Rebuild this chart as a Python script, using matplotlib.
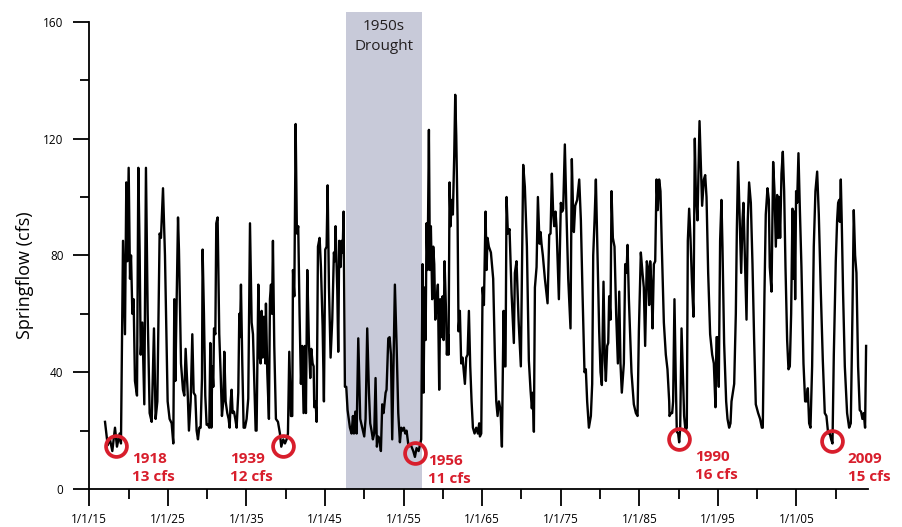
import matplotlib
matplotlib.use("Agg")
import matplotlib.pyplot as plt
from matplotlib.ticker import FixedLocator

plt.rcParams["font.family"] = ["Open Sans", "DejaVu Sans"]

# springflow record (decimal year, cfs)
years = [
    1917.00, 1917.34, 1917.63, 1917.93, 1918.27, 1918.52, 1918.86, 1919.03, 1919.29, 1919.54,
    1919.71, 1919.84, 1920.01, 1920.18, 1920.31, 1920.48, 1920.64, 1920.81, 1921.07, 1921.24,
    1921.41, 1921.54, 1921.75, 1922.00, 1922.21, 1922.43, 1922.68, 1922.94, 1923.23, 1923.44,
    1923.66, 1923.95, 1924.12, 1924.38, 1924.63, 1924.97, 1925.22, 1925.48, 1925.69, 1925.82,
    1925.95, 1926.29, 1926.41, 1926.67, 1926.92, 1927.09, 1927.26, 1927.52, 1927.68, 1927.90,
    1928.11, 1928.28, 1928.49, 1928.66, 1928.83, 1929.00, 1929.17, 1929.34, 1929.42, 1929.59,
    1929.76, 1929.93, 1930.10, 1930.27, 1930.40, 1930.53, 1930.65, 1930.78, 1930.87, 1931.04,
    1931.16, 1931.33, 1931.54, 1931.71, 1931.88, 1932.05, 1932.18, 1932.35, 1932.56, 1932.73,
    1932.86, 1932.99, 1933.11, 1933.24, 1933.41, 1933.58, 1933.75, 1933.96, 1934.09, 1934.17,
    1934.30, 1934.47, 1934.64, 1934.81, 1935.02, 1935.23, 1935.45, 1935.66, 1935.83, 1936.00,
    1936.17, 1936.29, 1936.51, 1936.63, 1936.80, 1936.93, 1937.06, 1937.23, 1937.40, 1937.48,
    1937.65, 1937.86, 1937.99, 1938.12, 1938.25, 1938.37, 1938.54, 1938.75, 1939.01, 1939.26,
    1939.43, 1939.69, 1939.90, 1940.11, 1940.28, 1940.45, 1940.66, 1940.83, 1940.92, 1941.09,
    1941.26, 1941.42, 1941.59, 1941.76, 1941.93, 1942.10, 1942.27, 1942.44, 1942.57, 1942.74,
    1942.95, 1943.12, 1943.25, 1943.42, 1943.55, 1943.63, 1943.80, 1943.93, 1944.10, 1944.31,
    1944.48, 1944.69, 1944.86, 1945.03, 1945.20, 1945.33, 1945.50, 1945.71, 1945.92, 1946.13,
    1946.26, 1946.34, 1946.56, 1946.68, 1946.81, 1946.98, 1947.11, 1947.24, 1947.36, 1947.53,
    1947.70, 1947.87, 1948.17, 1948.38, 1948.55, 1948.68, 1948.85, 1949.02, 1949.23, 1949.48,
    1949.74, 1949.99, 1950.16, 1950.37, 1950.59, 1950.75, 1950.92, 1951.09, 1951.26, 1951.43,
    1951.60, 1951.77, 1951.94, 1952.11, 1952.28, 1952.45, 1952.71, 1952.83, 1953.05, 1953.22,
    1953.39, 1953.55, 1953.72, 1953.89, 1954.11, 1954.32, 1954.53, 1954.70, 1954.87, 1955.04,
    1955.21, 1955.38, 1955.63, 1955.93, 1956.23, 1956.44, 1956.65, 1956.91, 1957.12, 1957.24,
    1957.41, 1957.54, 1957.67, 1957.80, 1957.92, 1958.05, 1958.22, 1958.35, 1958.47, 1958.64,
    1958.77, 1958.90, 1959.03, 1959.19, 1959.36, 1959.53, 1959.66, 1959.83, 1959.96, 1960.09,
    1960.21, 1960.38, 1960.51, 1960.64, 1960.72, 1960.85, 1960.98, 1961.10, 1961.27, 1961.44,
    1961.57, 1961.70, 1961.87, 1961.99, 1962.16, 1962.33, 1962.50, 1962.67, 1962.80, 1962.97,
    1963.14, 1963.31, 1963.48, 1963.65, 1963.82, 1964.03, 1964.24, 1964.45, 1964.62, 1964.71,
    1964.88, 1965.05, 1965.22, 1965.43, 1965.56, 1965.68, 1965.85, 1966.11, 1966.40, 1966.62,
    1966.79, 1966.96, 1967.13, 1967.34, 1967.51, 1967.72, 1967.85, 1967.97, 1968.10, 1968.27,
    1968.48, 1968.74, 1969.03, 1969.16, 1969.37, 1969.63, 1969.92, 1970.22, 1970.43, 1970.69,
    1970.94, 1971.15, 1971.32, 1971.45, 1971.58, 1971.71, 1971.92, 1972.09, 1972.30, 1972.43,
    1972.55, 1972.72, 1972.98, 1973.32, 1973.53, 1973.70, 1973.87, 1974.04, 1974.17, 1974.33,
    1974.46, 1974.76, 1975.01, 1975.18, 1975.31, 1975.52, 1975.73, 1975.95, 1976.24, 1976.41,
    1976.62, 1976.67, 1976.84, 1977.09, 1977.35, 1977.56, 1977.77, 1978.02, 1978.19, 1978.36,
    1978.58, 1978.83, 1979.00, 1979.13, 1979.30, 1979.47, 1979.68, 1979.89, 1980.06, 1980.23,
    1980.44, 1980.61, 1980.74, 1980.91, 1981.04, 1981.16, 1981.33, 1981.46, 1981.63, 1981.84,
    1982.05, 1982.27, 1982.44, 1982.60, 1982.77, 1983.03, 1983.20, 1983.37, 1983.50, 1983.67,
    1983.83, 1984.00, 1984.30, 1984.56, 1984.77, 1984.94, 1985.19, 1985.40, 1985.57, 1985.74,
    1985.95, 1986.08, 1986.25, 1986.38, 1986.55, 1986.68, 1986.85, 1987.02, 1987.19, 1987.35,
    1987.52, 1987.69, 1987.86, 1988.12, 1988.37, 1988.58, 1988.80, 1988.84, 1989.01, 1989.18,
    1989.30, 1989.47, 1989.64, 1989.77, 1989.94, 1990.07, 1990.20, 1990.37, 1990.53, 1990.70,
    1990.87, 1991.04, 1991.17, 1991.34, 1991.51, 1991.68, 1991.89, 1992.06, 1992.19, 1992.40,
    1992.66, 1992.82, 1992.99, 1993.21, 1993.38, 1993.55, 1993.76, 1994.01, 1994.27, 1994.48,
    1994.69, 1994.82, 1994.99, 1995.11, 1995.28, 1995.45, 1995.58, 1995.79, 1996.05, 1996.22,
    1996.43, 1996.60, 1996.73, 1996.90, 1997.07, 1997.28, 1997.41, 1997.57, 1997.74, 1997.96,
    1998.13, 1998.25, 1998.42, 1998.64, 1998.80, 1998.97, 1999.19, 1999.40, 1999.61, 1999.82,
    2000.12, 2000.37, 2000.59, 2000.71, 2000.92, 2001.09, 2001.31, 2001.48, 2001.60, 2001.82,
    2002.03, 2002.20, 2002.37, 2002.54, 2002.66, 2002.79, 2002.92, 2003.09, 2003.26, 2003.43,
    2003.60, 2003.81, 2003.98, 2004.15, 2004.32, 2004.49, 2004.61, 2004.74, 2004.83, 2004.95,
    2005.08, 2005.25, 2005.42, 2005.63, 2005.89, 2006.10, 2006.27, 2006.44, 2006.61, 2006.78,
    2006.99, 2007.20, 2007.41, 2007.63, 2007.84, 2008.09, 2008.35, 2008.60, 2008.81, 2009.03,
    2009.24, 2009.41, 2009.58, 2009.75, 2010.00, 2010.17, 2010.30, 2010.43, 2010.51, 2010.64,
    2010.76, 2010.93, 2011.15, 2011.44, 2011.70, 2011.91, 2012.12, 2012.29, 2012.46, 2012.63,
    2012.84, 2013.05, 2013.22, 2013.39, 2013.56, 2013.73, 2013.86,
]
flow = [
    23, 15, 17, 13, 21, 14.5, 19, 15.6, 85, 53,
    105, 78, 110, 72, 80, 60, 65, 37, 32, 110,
    81, 46, 57, 29, 110, 60, 26, 23, 55, 24,
    30, 87.5, 86, 103, 80, 30, 24, 22.5, 15.6, 65,
    37, 93, 82, 43, 34, 32, 48, 33, 20, 30,
    53, 33, 32, 20, 17, 21, 21, 38, 82, 60,
    32, 22, 22, 21, 50, 21, 42, 35, 55, 53,
    91, 93, 53, 40, 25, 30, 47, 30, 26, 24,
    21, 30, 34, 26, 26.5, 24, 21, 33, 60, 52,
    70, 43, 21, 21, 24, 31, 91, 57, 53, 37,
    20, 20, 70, 46, 43, 61, 45, 59, 43, 63.5,
    40, 24, 65, 70, 60, 85, 49, 24, 23, 19,
    14.5, 17, 15.6, 17, 19, 47, 25, 25, 75, 66,
    125, 87.5, 90, 60, 36, 49, 26, 49, 26, 75,
    50, 38, 48, 43, 42, 28, 30, 23, 83, 86,
    76, 56, 30, 82, 83, 104, 69, 45, 58, 81,
    78, 90, 68, 47, 85, 76, 85, 81, 95, 35,
    35, 27, 21, 19, 25, 19, 26.5, 19, 51.6, 24,
    21, 18, 24, 55, 33, 22.5, 20, 17, 19, 38,
    14.5, 18, 17, 13, 29, 26, 33, 34, 51.6, 52,
    46, 17, 44, 70, 49, 26, 16, 21, 20, 21,
    19, 20, 14.5, 15, 13, 11, 14, 13, 15.6, 17,
    77, 33, 69, 51, 91, 75, 123, 75, 90, 65,
    83, 77, 58, 62.5, 70, 34, 65, 52, 66, 51,
    78, 62.5, 46, 53, 46, 105, 90, 99, 94, 114,
    135, 121, 92, 54, 61, 43, 45, 40, 36, 45,
    46, 61, 42, 30, 21, 19, 21, 19, 22.5, 18,
    19, 69, 63, 95, 75, 86, 83, 81, 72, 45,
    30, 25, 30, 27, 14.5, 61, 42, 42, 100, 87.5,
    89, 67, 50, 74, 78, 58, 42, 111, 103.5, 83,
    44, 34, 27.6, 33, 19.6, 69, 76, 100, 84, 88,
    84, 80, 72, 63.6, 87, 87.5, 108, 94, 90, 95,
    90, 65, 98, 95, 96, 118, 94, 72, 55, 113,
    89, 88, 97, 99, 106, 92, 67, 40, 41, 30,
    21, 25, 36, 80, 92, 106, 80, 54, 40, 35.6,
    71, 44, 37, 49, 50, 66, 58, 102, 86, 83,
    60, 43, 67.6, 43, 33, 43, 77, 74, 83.6, 65,
    53, 40, 29, 26, 25, 54, 81, 74, 69, 49,
    78, 76, 63, 78, 69, 55, 77, 78, 106, 95.5,
    106, 102, 83, 57, 46, 41, 30, 25, 26, 26,
    30, 65, 37, 19.6, 19, 16, 21, 55, 40, 25,
    20, 21, 85, 96, 86, 72, 59, 120, 102, 92,
    126, 111.5, 97, 106, 107.5, 100, 74, 53, 46, 43,
    28, 52, 52, 35, 85, 99, 83, 50, 30, 24,
    21, 22.5, 30, 33, 36, 60, 89, 112, 95.5, 74,
    92, 98, 81, 58, 92, 105, 98, 77, 51, 29,
    26, 24, 21, 21, 66, 94, 103, 99, 76, 67.6,
    112, 102, 83, 100.7, 86, 100, 86, 108, 115.5, 102,
    76, 51, 41, 42, 60, 96, 72, 95, 65, 102,
    98, 115, 96.7, 76, 43, 30, 30, 34.5, 22.5, 21,
    42, 83, 102, 108.7, 94, 68, 44, 26, 25, 19,
    19, 17, 15.6, 46, 78, 92, 98, 99, 91.5, 106,
    91.5, 67, 42, 26, 21, 22.5, 60, 95.5, 80, 74,
    42, 27, 26.5, 24, 26, 21, 49,
]

# drought-of-record shading
drought_start = 1947.7
drought_end = 1957.3
drought_label = "1950s\nDrought"

# annotated minimum flows
low_years = [1918.36, 1939.70, 1956.44, 1990.10, 2009.55]
low_values = [14.7, 14.6, 12.5, 17.0, 16.3]
low_labels = ["1918\n13 cfs", "1939\n12 cfs", "1956\n11 cfs", "1990\n16 cfs", "2009\n15 cfs"]

RED = "#d81e2c"

fig = plt.figure(figsize=(9.02, 5.27), dpi=100)
ax = fig.add_axes([0.099, 0.0721, 0.8633, 0.9048])

ax.axvspan(drought_start, drought_end, color="#c8cad9", lw=0, zorder=0)
ax.text((drought_start + drought_end) / 2, 155.0, drought_label, ha="center", va="center",
        fontsize=11, linespacing=1.45, color="#231f20")

ax.plot(years, flow, color="black", lw=1.7, zorder=2)

ax.plot(low_years, low_values, "o", ms=15, mfc="none", mec=RED, mew=2.7, zorder=3)

# label offsets (points) relative to each circle
offsets = [(11.5, -4.5), (-7.6, -4.2), (9.4, -1.0), (11.5, -7.6), (11.2, -7.6)]
for x, y, lab, off in zip(low_years, low_values, low_labels, offsets):
    ha = "right" if off[0] < 0 else "left"
    ax.annotate(lab, (x, y), xytext=off, textcoords="offset points", ha=ha, va="top",
                multialignment="left", fontsize=11, fontweight="bold", color=RED,
                linespacing=1.35)

ax.set_xlim(1915, 2014.1)
ax.set_ylim(0, 163.3)

for side in ["top", "right"]:
    ax.spines[side].set_visible(False)
ax.spines["left"].set_bounds(0, 160)
ax.spines["left"].set_linewidth(1.3)
ax.spines["bottom"].set_linewidth(1.3)

ax.xaxis.set_major_locator(FixedLocator(list(range(1915, 2015, 10))))
ax.xaxis.set_minor_locator(FixedLocator(list(range(1920, 2015, 10))))
ax.set_xticklabels([f"1/1/{y % 100:02d}" for y in range(1915, 2015, 10)])
ax.yaxis.set_major_locator(FixedLocator([0, 40, 80, 120, 160]))
ax.yaxis.set_minor_locator(FixedLocator([20, 60, 100, 140]))

ax.tick_params(axis="x", which="major", length=12, width=1.3, pad=5, labelsize=8.5)
ax.tick_params(axis="x", which="minor", length=7, width=1.3)
ax.tick_params(axis="y", which="major", length=11.5, width=1.3, pad=7, labelsize=8.5)
ax.tick_params(axis="y", which="minor", length=6.5, width=1.3)

fig.text(25 / 902, 1 - 275 / 527, "Springflow (cfs)", rotation=90, ha="center", va="center",
         fontsize=13)

fig.savefig("out.png", dpi=100)
